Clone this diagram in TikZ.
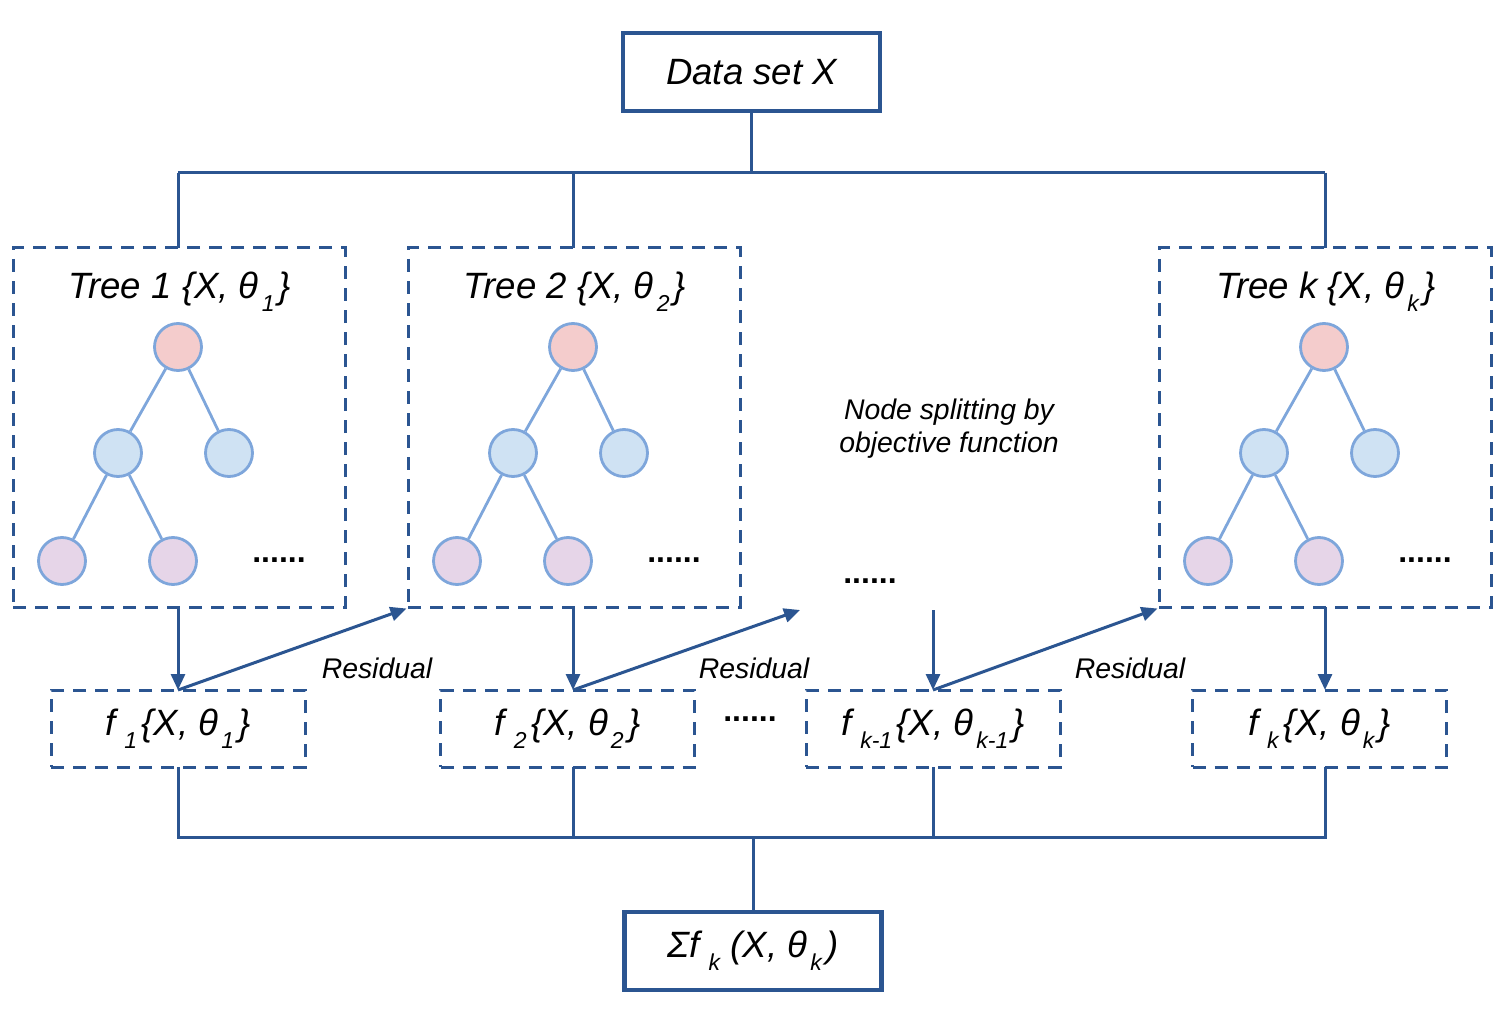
\documentclass[tikz,border=0pt]{standalone}
\usepackage{fontspec}
\setmainfont{Liberation Sans}
\usetikzlibrary{arrows.meta}
\definecolor{dblue}{HTML}{2B5591}
\definecolor{lblue}{HTML}{7EA6DB}
\definecolor{npink}{HTML}{F4CCCC}
\definecolor{nblue}{HTML}{CFE2F3}
\definecolor{npurp}{HTML}{E6D5E8}
\newcommand{\sbs}[1]{\hspace{0.08em}\raisebox{-0.65ex}{\fontsize{11.5}{11.5}\selectfont #1}\hspace{0.12em}}
\newcommand{\drawtree}[3]{%
  \node[treebox] (#1box) at (#2+179,427.5) {};
  \node (#1title) at (#2+180,292) {Tree #3};
  \node[tnode, fill=npink] (#1r) at (#2+178,347) {};
  \node[tnode, fill=nblue] (#1a) at (#2+118,453) {};
  \node[tnode, fill=nblue] (#1b) at (#2+229,453) {};
  \node[tnode, fill=npurp] (#1c) at (#2+62,561) {};
  \node[tnode, fill=npurp] (#1d) at (#2+173,561) {};
  \node[dots] (#1dots) at (#2+279,560) {......};
  \draw[treeedge] (#1r) -- (#1a);
  \draw[treeedge] (#1r) -- (#1b);
  \draw[treeedge] (#1a) -- (#1c);
  \draw[treeedge] (#1a) -- (#1d);
}
\begin{document}
\begin{tikzpicture}[x=0.5pt,y=-0.5pt, font=\itshape\fontsize{18.3}{21}\selectfont,
 solidbox/.style={draw=dblue, line width=2.1pt, minimum width=128.5pt, minimum height=39pt, inner sep=0pt, fill=white},
 dashbox/.style={draw=dblue, line width=1.5pt, dash pattern=on 6.5pt off 4.5pt, inner sep=0pt},
 treebox/.style={dashbox, minimum width=166pt, minimum height=179.5pt},
 fbox/.style={dashbox, minimum width=127pt, minimum height=38.5pt},
 tnode/.style={circle, draw=lblue, line width=1.4pt, minimum size=23.5pt, inner sep=0pt},
 conn/.style={dblue, line width=1.5pt},
 arr/.style={conn, -{Triangle[length=8pt,width=7pt]}},
 treeedge/.style={lblue, line width=1.4pt},
 lbl/.style={font=\itshape\fontsize{14.2}{16.5}\selectfont},
 dots/.style={font=\bfseries\fontsize{16}{16}\selectfont}]
\useasboundingbox (0,0) rectangle (1504,1016);

% top box
\node[solidbox] (data) at (751.5,72) {Data set X};

% trees
\drawtree{ta}{0}{1 \{X, θ\sbs{1}\}}
\drawtree{tb}{395}{2 \{X, θ\sbs{2}\}}
\drawtree{tk}{1146}{k \{X, θ\sbs{k}\}}

% middle text
\node[lbl, align=center] (split) at (949,429) {Node splitting by\\objective function};
\node[dots] (mdots) at (870,581) {......};
\coordinate (mtop) at (933,610);
\coordinate (mres) at (800,610);

% f boxes
\node[fbox] (f1) at (178,728.5) {f\,\sbs{1}\{X, θ\sbs{1}\}};
\node[fbox] (f2) at (567.5,728.5) {f\,\sbs{2}\{X, θ\sbs{2}\}};
\node[fbox] (fk1) at (933,728.5) {f\,\sbs{k-1}\{X, θ\sbs{k-1}\}};
\node[fbox] (fk) at (1319.5,728.5) {f\,\sbs{k}\{X, θ\sbs{k}\}};
\node[dots] (fdots) at (750,719) {......};

% bottom box
\node[solidbox] (sum) at (753,951) {Σf\,\sbs{k}\,(X, θ\sbs{k})};

% top distribution
\coordinate (hub) at (751.5,173);
\draw[conn] (data.south) -- (hub);
\draw[conn] (178,173) -- (1325,173);
\draw[conn] (178,173) -- (178,248);
\draw[conn] (573,173) -- (573,248);
\draw[conn] (1325,173) -- (1325,248);

% down arrows
\draw[arr] (178,607) -- (178,690);
\draw[arr] (573,607) -- (573,690);
\draw[arr] (mtop) -- (933,690);
\draw[arr] (1325,607) -- (1325,690);

% residual arrows
\draw[arr] (178,690) -- (tbbox.south west);
\draw[arr] (573,690) -- (mres);
\draw[arr] (933,690) -- (tkbox.south west);
\node[lbl] (r1) at (377,668) {Residual};
\node[lbl] (r2) at (754,668) {Residual};
\node[lbl] (r3) at (1130,668) {Residual};

% bottom collection
\coordinate (bhub) at (753,837);
\draw[conn] (178,767) -- (178,837) -- (1325,837) -- (1325,767);
\draw[conn] (573,767) -- (573,837);
\draw[conn] (933,767) -- (933,837);
\draw[conn] (bhub) -- (sum.north);
\end{tikzpicture}
\end{document}
